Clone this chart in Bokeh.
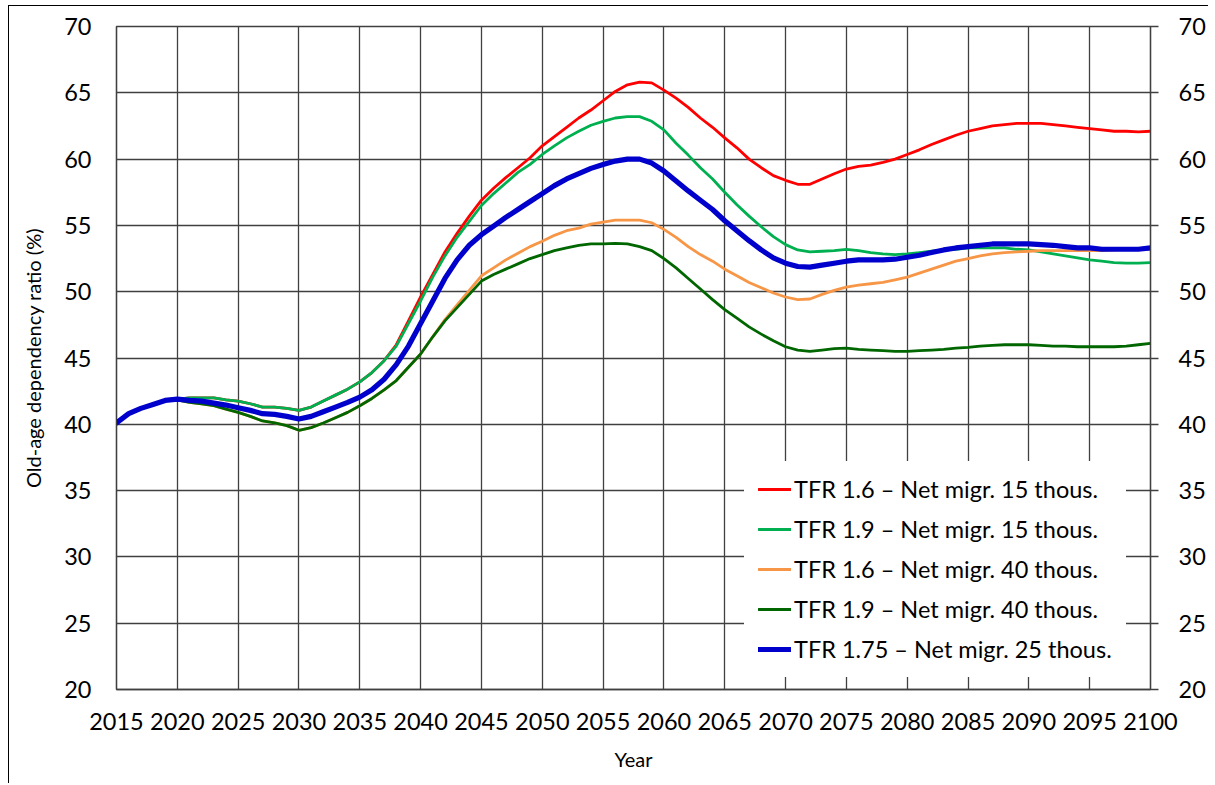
from bokeh.plotting import figure
from bokeh.models import Range1d, LinearAxis, FixedTicker, Legend, LegendItem
from bokeh.embed import file_html
from bokeh.resources import INLINE

years = list(range(2015, 2101))

tfr16_m15 = [40.1, 40.8, 41.2, 41.5, 41.8, 41.9, 42.0, 42.0, 42.0, 41.85,
             41.75, 41.55, 41.3, 41.3, 41.2, 41.05, 41.3, 41.75, 42.2, 42.65,
             43.2, 43.9, 44.8, 46.0, 47.8, 49.6, 51.3, 53.0, 54.4, 55.7,
             56.9, 57.8, 58.6, 59.35, 60.1, 61.0, 61.7, 62.4, 63.1, 63.7,
             64.4, 65.1, 65.6, 65.8, 65.75, 65.2, 64.6, 63.9, 63.1, 62.4,
             61.6, 60.85, 60.0, 59.35, 58.75, 58.4, 58.1, 58.1, 58.5, 58.9,
             59.25, 59.45, 59.55, 59.75, 60.0, 60.35, 60.7, 61.1, 61.45, 61.8,
             62.1, 62.3, 62.5, 62.6, 62.7, 62.7, 62.7, 62.6, 62.5, 62.4,
             62.3, 62.2, 62.1, 62.1, 62.05, 62.1]

tfr19_m15 = [40.1, 40.8, 41.2, 41.5, 41.8, 41.9, 42.0, 42.0, 42.0, 41.85,
             41.75, 41.55, 41.3, 41.3, 41.2, 41.05, 41.3, 41.75, 42.2, 42.65,
             43.2, 43.9, 44.8, 45.9, 47.6, 49.3, 51.1, 52.7, 54.1, 55.3,
             56.5, 57.4, 58.2, 59.0, 59.6, 60.35, 61.0, 61.6, 62.1, 62.55,
             62.85, 63.1, 63.2, 63.2, 62.85, 62.2, 61.2, 60.3, 59.35, 58.5,
             57.5, 56.55, 55.7, 54.9, 54.15, 53.55, 53.15, 53.0, 53.05, 53.1,
             53.2, 53.1, 52.95, 52.85, 52.8, 52.85, 52.95, 53.05, 53.15, 53.2,
             53.3, 53.3, 53.3, 53.3, 53.2, 53.15, 53.0, 52.85, 52.7, 52.55,
             52.4, 52.3, 52.2, 52.15, 52.15, 52.2]

tfr16_m40 = [40.1, 40.8, 41.2, 41.5, 41.8, 41.85, 41.65, 41.55, 41.4, 41.15,
             40.9, 40.6, 40.25, 40.1, 39.9, 39.55, 39.75, 40.1, 40.5, 40.9,
             41.4, 41.95, 42.6, 43.3, 44.3, 45.3, 46.6, 47.9, 49.0, 50.1,
             51.2, 51.8, 52.4, 52.9, 53.4, 53.8, 54.25, 54.6, 54.8, 55.1,
             55.25, 55.4, 55.4, 55.4, 55.2, 54.7, 54.1, 53.4, 52.8, 52.3,
             51.7, 51.2, 50.7, 50.3, 49.9, 49.6, 49.4, 49.45, 49.8, 50.1,
             50.35, 50.5, 50.6, 50.7, 50.9, 51.1, 51.4, 51.7, 52.0, 52.3,
             52.5, 52.7, 52.85, 52.95, 53.0, 53.05, 53.1, 53.1, 53.1, 53.1,
             53.1, 53.1, 53.15, 53.2, 53.2, 53.2]

tfr19_m40 = [40.1, 40.8, 41.2, 41.5, 41.8, 41.85, 41.65, 41.55, 41.4, 41.15,
             40.9, 40.6, 40.25, 40.1, 39.9, 39.55, 39.75, 40.1, 40.5, 40.9,
             41.4, 41.95, 42.6, 43.3, 44.3, 45.3, 46.6, 47.8, 48.8, 49.8,
             50.8, 51.3, 51.7, 52.1, 52.5, 52.8, 53.1, 53.3, 53.5, 53.6,
             53.6, 53.65, 53.6, 53.4, 53.1, 52.5, 51.8, 51.0, 50.2, 49.4,
             48.65, 48.0, 47.35, 46.8, 46.3, 45.85, 45.6, 45.5, 45.6, 45.7,
             45.75, 45.65, 45.6, 45.55, 45.5, 45.5, 45.55, 45.6, 45.65, 45.75,
             45.8, 45.9, 45.95, 46.0, 46.0, 46.0, 45.95, 45.9, 45.9, 45.85,
             45.85, 45.85, 45.85, 45.9, 46.0, 46.1]

tfr175_m25 = [40.1, 40.8, 41.2, 41.5, 41.8, 41.9, 41.8, 41.75, 41.6, 41.45,
              41.25, 41.05, 40.8, 40.75, 40.6, 40.4, 40.6, 40.95, 41.3, 41.65,
              42.05, 42.6, 43.4, 44.5, 45.9, 47.6, 49.3, 51.0, 52.4, 53.5,
              54.3, 54.95, 55.6, 56.2, 56.8, 57.4, 58.0, 58.5, 58.9, 59.3,
              59.6, 59.85, 60.0, 60.0, 59.7, 59.1, 58.35, 57.6, 56.9, 56.2,
              55.35, 54.6, 53.85, 53.15, 52.55, 52.15, 51.9, 51.85, 52.0, 52.15,
              52.3, 52.4, 52.4, 52.4, 52.45, 52.6, 52.75, 52.95, 53.15, 53.3,
              53.4, 53.5, 53.6, 53.6, 53.6, 53.6, 53.55, 53.5, 53.4, 53.3,
              53.3, 53.2, 53.2, 53.2, 53.2, 53.3]

series_labels = ["TFR 1.6 \u2013 Net migr. 15 thous.",
                 "TFR 1.9 \u2013 Net migr. 15 thous.",
                 "TFR 1.6 \u2013 Net migr. 40 thous.",
                 "TFR 1.9 \u2013 Net migr. 40 thous.",
                 "TFR 1.75 \u2013 Net migr. 25 thous."]
series_values = [tfr16_m15, tfr19_m15, tfr16_m40, tfr19_m40, tfr175_m25]
series_colors = ["#FF0000", "#00B050", "#F79646", "#006600", "#0000CC"]
series_widths = [2.8, 2.8, 2.8, 2.8, 5.2]

x_ticks = list(range(2015, 2101, 5))
y_ticks = list(range(20, 71, 5))

FONT = "Lato"
GRID = "#404040"

p = figure(width=1200, height=778,
           x_range=Range1d(2015, 2100), y_range=Range1d(20, 70),
           output_backend="svg", toolbar_location=None,
           min_border_left=107, min_border_right=59,
           min_border_top=20, min_border_bottom=95,
           background_fill_color="white", border_fill_color="white")

p.outline_line_color = GRID
p.outline_line_width = 1.3

for g, t in ((p.xgrid, x_ticks), (p.ygrid, y_ticks)):
    g.ticker = FixedTicker(ticks=t)
    g.grid_line_color = GRID
    g.grid_line_width = 1.3
    g.grid_line_alpha = 1.0

right_axis = LinearAxis()
p.add_layout(right_axis, "right")

for ax in p.xaxis:
    ax.ticker = FixedTicker(ticks=x_ticks)
    ax.major_label_standoff = 23
    ax.axis_label = "Year"
    ax.axis_label_standoff = 14

for ax in p.yaxis:
    ax.ticker = FixedTicker(ticks=y_ticks)

p.yaxis[0].axis_label = "Old-age dependency ratio (%)"
p.yaxis[0].axis_label_standoff = 16
p.yaxis[0].major_label_standoff = 25

for ax in list(p.xaxis) + list(p.yaxis):
    ax.axis_line_color = GRID
    ax.axis_line_width = 1.3
    ax.major_tick_in = 0
    ax.major_tick_out = 0
    ax.minor_tick_line_color = None
    ax.major_tick_line_color = GRID
    ax.major_tick_line_width = 1.3
    ax.major_label_text_font = FONT
    ax.major_label_text_font_size = "23.5px"
    ax.major_label_text_color = "black"
    ax.axis_label_text_font = FONT
    ax.axis_label_text_font_size = "20px"
    ax.axis_label_text_font_style = "normal"
    ax.axis_label_text_color = "black"

right_axis.major_tick_out = 8
right_axis.major_label_standoff = 20

items = []
for lab, vals, col, w in zip(series_labels, series_values, series_colors, series_widths):
    r = p.line(years, vals, line_color=col, line_width=w, line_join="round", line_cap="round")
    items.append(LegendItem(label=lab, renderers=[r]))

legend = Legend(items=items, location=(628, 12),
                label_text_font=FONT, label_text_font_size="23.5px",
                label_text_color="black",
                glyph_width=33, glyph_height=26, label_height=26,
                label_standoff=3, spacing=12, padding=14, margin=0,
                background_fill_color="white", background_fill_alpha=1.0,
                border_line_alpha=0)
p.add_layout(legend)

p.styles = {"border-left": "1px solid black", "border-top": "1px solid black",
            "margin-left": "8px", "margin-top": "5px"}

open("out.html", "w").write(file_html(p, INLINE))
